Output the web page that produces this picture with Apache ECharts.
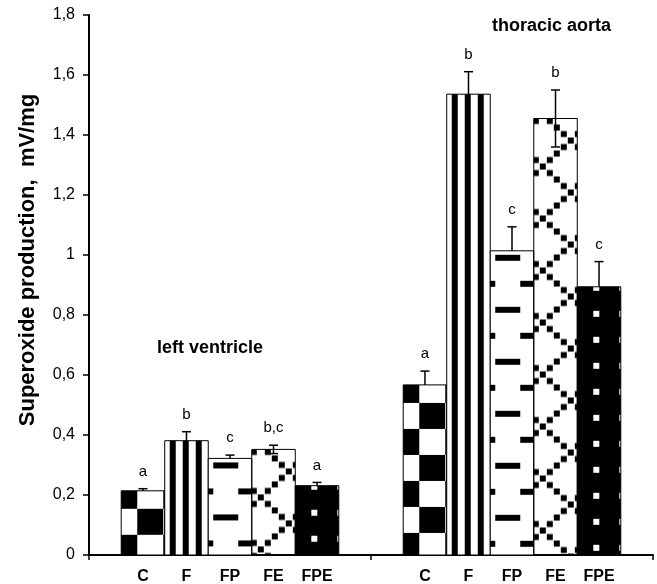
<!DOCTYPE html>
<html>
<head>
<meta charset="utf-8">
<title>Superoxide production</title>
<script src="https://cdn.jsdelivr.net/npm/echarts@6/dist/echarts.min.js"></script>
<style>
    html, body { margin: 0; padding: 0; background: #fff; }
    #chart { width: 657px; height: 584px; }
</style>
</head>
<body>
<div id="chart"></div>
<script>
// 数据
var groups = ['left ventricle', 'thoracic aorta'];
var treatments = ['C', 'F', 'FP', 'FE', 'FPE'];
var yTickLabels = ['0', '0,2', '0,4', '0,6', '0,8', '1', '1,2', '1,4', '1,6', '1,8'];

var lvMean = [0.214, 0.381, 0.322, 0.352, 0.231];
var lvErr = [0.007, 0.030, 0.011, 0.014, 0.011];
var lvSig = ['a', 'b', 'c', 'b,c', 'a'];

var taMean = [0.567, 1.536, 1.014, 1.455, 0.894];
var taErr = [0.046, 0.075, 0.080, 0.095, 0.084];
var taSig = ['a', 'b', 'c', 'b', 'c'];

var font = '"Liberation Sans", Arial, sans-serif';

// 填充图案
function makeTile(w, h, bg, draw) {
    var c = document.createElement('canvas');
    c.width = w;
    c.height = h;
    var ctx = c.getContext('2d');
    if (bg) {
        ctx.fillStyle = bg;
        ctx.fillRect(0, 0, w, h);
    }
    ctx.fillStyle = '#000';
    draw(ctx, w, h);
    return c;
}

var tiles = [
    // C 棋盘
    { img: makeTile(52, 52, '#fff', function (ctx) {
        ctx.fillRect(0, 0, 26, 26);
        ctx.fillRect(26, 26, 26, 26);
    }), dx: -10, dy: -8 },
    // F 竖条
    { img: makeTile(13, 13, '#fff', function (ctx) {
        ctx.fillRect(0, 0, 6, 13);
    }), dx: 5, dy: 0 },
    // FP 短横线
    { img: makeTile(50, 52, '#fff', function (ctx) {
        ctx.fillRect(0, 0, 25, 6);
        ctx.fillRect(25, 26, 25, 6);
    }), dx: 5, dy: 4 },
    // FE 网格
    { img: makeTile(56, 52, null, function (ctx, w, h) {
        for (var k = 0; k <= 8; k++) {
            var cx = k * 7, cy = k * 6.5;
            for (var a = -1; a <= 1; a++) {
                for (var b = -1; b <= 1; b++) {
                    ctx.fillRect(cx - 3 + a * w, cy - 3 + b * h, 6, 6);
                    ctx.fillRect(w - cx - 3 + a * w, cy - 3 + b * h, 6, 6);
                }
            }
        }
    }), dx: 9, dy: -4 },
    // FPE 黑底白点
    { img: makeTile(26, 26, '#000', function (ctx) {
        ctx.fillStyle = '#fff';
        ctx.fillRect(0, 0, 6, 6);
    }), dx: 16, dy: -2 }
];

var barRatio = 0.1543;

function renderBar(params, api) {
    var k = params.seriesIndex;
    var cat = api.value(0);
    var val = api.value(1);
    var err = api.value(2);
    var base = api.coord([cat, 0]);
    var top = api.coord([cat, val]);
    var hi = api.coord([cat, val + err]);
    var lo = api.coord([cat, val - err]);
    var bw = api.size([1, 0])[0] * barRatio;
    var cx = base[0] + (k - 2) * bw;
    var left = cx - bw / 2;
    var t = tiles[k];
    var sig = (cat === 0 ? lvSig : taSig)[k];
    var line = { stroke: '#000', lineWidth: 1.5 };
    return {
        type: 'group',
        children: [
            { type: 'line', shape: { x1: cx, y1: top[1], x2: cx, y2: lo[1] }, style: line },
            { type: 'line', shape: { x1: cx - 4.5, y1: lo[1], x2: cx + 4.5, y2: lo[1] }, style: line },
            {
                type: 'rect',
                shape: { x: left, y: top[1], width: bw, height: base[1] - top[1] },
                style: {
                    fill: { image: t.img, repeat: 'repeat', x: left + t.dx, y: top[1] + t.dy },
                    stroke: '#000',
                    lineWidth: 1
                }
            },
            { type: 'line', shape: { x1: cx, y1: top[1], x2: cx, y2: hi[1] }, style: line },
            { type: 'line', shape: { x1: cx - 4.5, y1: hi[1], x2: cx + 4.5, y2: hi[1] }, style: line },
            {
                type: 'text', x: cx, y: hi[1] - 17,
                style: { text: sig, font: '15px ' + font, fill: '#000', align: 'center', verticalAlign: 'middle' }
            },
            {
                type: 'text', x: cx, y: base[1] + 22,
                style: { text: treatments[k], font: 'bold 16px ' + font, fill: '#000', align: 'center', verticalAlign: 'middle' }
            }
        ]
    };
}

var series = [];
for (var i = 0; i < treatments.length; i++) {
    series.push({
        name: treatments[i],
        type: 'custom',
        renderItem: renderBar,
        clip: false,
        data: [[0, lvMean[i], lvErr[i]], [1, taMean[i], taErr[i]]]
    });
}

var myChart = echarts.init(document.getElementById('chart'));
var option = {
    backgroundColor: '#fff',
    animation: false,
    grid: { left: 89, right: 4, top: 15, bottom: 29 },
    xAxis: {
        type: 'category',
        data: groups,
        axisLine: { lineStyle: { color: '#000', width: 2 } },
        axisTick: { show: true, length: 5, lineStyle: { color: '#000', width: 1.5 } },
        axisLabel: { show: false },
        splitLine: { show: false }
    },
    yAxis: {
        type: 'value',
        min: 0,
        max: 1.8,
        interval: 0.2,
        axisLine: { show: true, lineStyle: { color: '#000', width: 2 } },
        axisTick: { show: true, length: 6, lineStyle: { color: '#000', width: 1.5 } },
        axisLabel: {
            color: '#000',
            fontSize: 16,
            fontFamily: font,
            margin: 14,
            formatter: function (v) {
                return yTickLabels[Math.round(v / 0.2)];
            }
        },
        splitLine: { show: false }
    },
    graphic: [
        {
            type: 'text', x: 28, y: 260, rotation: Math.PI / 2,
            style: { text: 'Superoxide production,  mV/mg', font: 'bold 22px ' + font, fill: '#000', align: 'center', verticalAlign: 'middle' }
        },
        {
            type: 'text', x: 157, y: 348,
            style: { text: 'left ventricle', font: 'bold 18px ' + font, fill: '#000', align: 'left', verticalAlign: 'middle' }
        },
        {
            type: 'text', x: 492, y: 26,
            style: { text: 'thoracic aorta', font: 'bold 18px ' + font, fill: '#000', align: 'left', verticalAlign: 'middle' }
        }
    ],
    series: series
};
myChart.setOption(option);
</script>
</body>
</html>
